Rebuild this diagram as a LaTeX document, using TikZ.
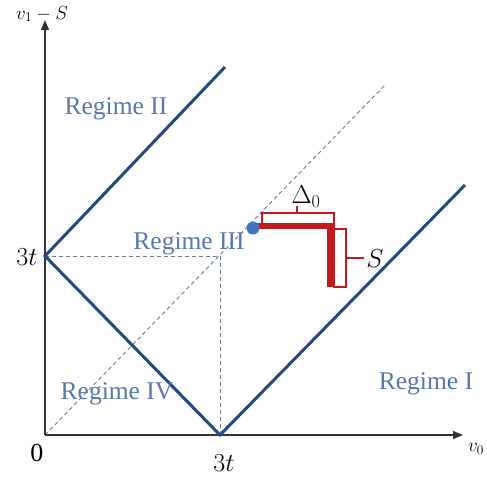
\RequirePackage{fix-cm}
\documentclass[tikz,border=0pt]{standalone}
\usepackage{fontspec}
\setmainfont{Liberation Serif}
\usetikzlibrary{arrows.meta}
\definecolor{lineblue}{RGB}{38,72,125}
\definecolor{regblue}{RGB}{88,120,168}
\definecolor{bred}{RGB}{192,28,32}
\definecolor{dashgray}{RGB}{110,120,140}
\definecolor{dotblue}{RGB}{70,115,190}
\begin{document}
\begin{tikzpicture}[x=1pt,y=-1pt,
  axis/.style={line width=1.3pt, draw=black!80, -{Triangle[length=10pt,width=8pt]}},
  regline/.style={line width=3pt, draw=lineblue},
  guide/.style={line width=0.9pt, draw=dashgray, dash pattern=on 4pt off 3pt},
  regime/.style={text=regblue, font=\fontsize{25.5}{30}\selectfont, inner sep=0pt},
  mathlab/.style={font=\fontsize{26}{30}\selectfont, inner sep=0pt},
  smalllab/.style={font=\fontsize{19}{23}\selectfont, inner sep=0pt},
  thickred/.style={line width=6.5pt, draw=bred},
  brk/.style={line width=2.5pt, draw=bred}]
\useasboundingbox (0,0) rectangle (487,480);
% key points
\coordinate (O) at (45,435);
\coordinate (ytip) at (45,20);
\coordinate (xtip) at (463,435);
\coordinate (A) at (45,256);
\coordinate (B) at (220,435);
\coordinate (C) at (220,256);
\coordinate (IIend) at (225,67);
\coordinate (Iend) at (465,185);
\coordinate (diagend) at (385,85);
% dashed guides
\draw[guide] (O) -- (diagend);
\draw[guide] (A) -- (C) -- (B);
% axes
\draw[axis] (O) -- (ytip);
\draw[axis] (O) -- (xtip);
% regime boundaries
\draw[regline] (IIend) -- (A) -- (B) -- (Iend);
% red construction
\coordinate (r1) at (255,226);
\coordinate (r2) at (330,226);
\coordinate (r3) at (330,287);
\draw[thickred] (r1) -- (r2) -- (r3);
\coordinate (d1) at (262,224);
\coordinate (d2) at (262,213);
\coordinate (d3) at (334,213);
\coordinate (d4) at (334,229);
\coordinate (dm) at (297,213);
\coordinate (dt) at (297,206);
\draw[brk] (d1) -- (d2) -- (d3) -- (d4);
\draw[brk] (dm) -- (dt);
\coordinate (s1) at (334,229);
\coordinate (s2) at (346,287);
\draw[brk] (s1) rectangle (s2);
\coordinate (sm) at (346,258);
\coordinate (st) at (364,258);
\draw[brk] (sm) -- (st);
% dot
\node[circle, fill=dotblue, inner sep=0pt, minimum size=13pt] (dot) at (253,228) {};
% labels
\node[regime] (r2lab) at (116,109) {Regime II};
\node[regime] (r3lab) at (189,244) {Regime III};
\node[regime] (r4lab) at (117,394) {Regime IV};
\node[regime] (r1lab) at (426,384) {Regime I};
\node[mathlab] (zero) at (37,453) {0};
\node[mathlab] (ty) at (27,257) {$3t$};
\node[mathlab] (tx) at (224,463) {$3t$};
\node[smalllab, anchor=base] (ylab) at (42,19) {$v_1-S$};
\node[smalllab] (xlab) at (476,449) {$v_0$};
\node[mathlab] (dlab) at (306,197) {$\Delta_0$};
\node[mathlab] (slab) at (375,259) {$S$};
\end{tikzpicture}
\end{document}
